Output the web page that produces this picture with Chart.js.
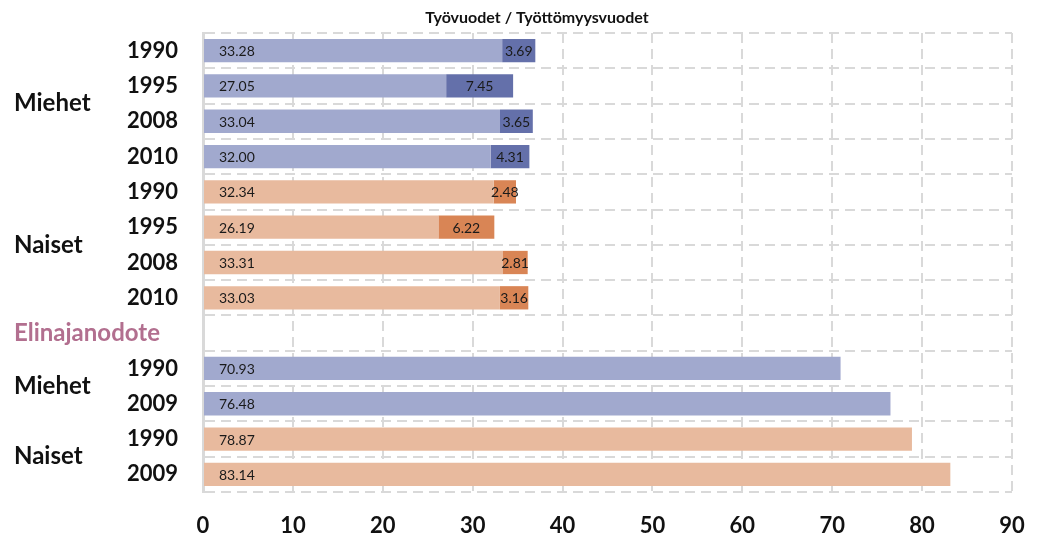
<!DOCTYPE html>
<html>
<head>
<meta charset="utf-8">
<style>
  html, body { margin: 0; padding: 0; background: #ffffff; }
</style>
<script src="https://cdn.jsdelivr.net/npm/chart.js@4/dist/chart.umd.min.js"></script>
</head>
<body>
<canvas id="elinChart" width="1039" height="538"></canvas>
<script>
// rivit ylhäältä alas
const vuodet = ['1990', '1995', '2008', '2010', '1990', '1995', '2008', '2010', '', '1990', '2009', '1990', '2009'];
const tyovuodet = [33.28, 27.05, 33.04, 32.00, 32.34, 26.19, 33.31, 33.03, null, null, null, null, null];
const tyottomyysvuodet = [3.69, 7.45, 3.65, 4.31, 2.48, 6.22, 2.81, 3.16, null, null, null, null, null];
const elinajanodote = [null, null, null, null, null, null, null, null, null, 70.93, 76.48, 78.87, 83.14];
const ryhmat = ['Miehet', 'Naiset', 'Elinajanodote', 'Miehet', 'Naiset'];
const ryhmanRivit = [[0, 3], [4, 7], [8, 8], [9, 10], [11, 12]];
const xTicks = [0, 10, 20, 30, 40, 50, 60, 70, 80, 90];
const otsikko = 'Työvuodet / Työttömyysvuodet';

const FONT = 'Lato, "Open Sans", sans-serif';
const isNainen = function (i) { return (i >= 4 && i <= 7) || i >= 11; };
const vaalea = vuodet.map(function (v, i) { return isNainen(i) ? '#e8ba9e' : '#a1a9ce'; });
const tumma = vuodet.map(function (v, i) { return isNainen(i) ? '#d98555' : '#6470aa'; });

const labelPlugin = {
    id: 'palkkiLabels',
    afterDatasetsDraw: function (chart) {
        const ctx = chart.ctx;
        ctx.save();
        ctx.font = '14px ' + FONT;
        ctx.fillStyle = '#1a1a1a';
        ctx.textBaseline = 'middle';
        chart.data.datasets.forEach(function (ds, di) {
            const meta = chart.getDatasetMeta(di);
            meta.data.forEach(function (bar, i) {
                const v = ds.data[i];
                if (v === null || v === undefined) return;
                const left = Math.min(bar.x, bar.base);
                if (di === 1) {
                    // työttömyysvuodet keskelle omaa osuuttaan
                    ctx.textAlign = 'center';
                    ctx.fillText(v.toFixed(2), (bar.x + bar.base) / 2, bar.y + 1);
                } else {
                    ctx.textAlign = 'left';
                    ctx.fillText(v.toFixed(2), left + 15, bar.y + 1);
                }
            });
        });
        ctx.restore();
    }
};

const ryhmaPlugin = {
    id: 'ryhmaLabels',
    afterDraw: function (chart) {
        const ctx = chart.ctx;
        const y = chart.scales.y;
        ctx.save();
        ctx.textBaseline = 'middle';
        ctx.textAlign = 'left';
        ctx.font = 'bold 24px ' + FONT;
        ryhmat.forEach(function (nimi, i) {
            const r = ryhmanRivit[i];
            const py = y.getPixelForValue((r[0] + r[1]) / 2);
            ctx.fillStyle = nimi === 'Elinajanodote' ? '#b26f8f' : '#111111';
            ctx.fillText(nimi, 14, py);
        });
        // otsikko
        ctx.font = 'bold 16px ' + FONT;
        ctx.fillStyle = '#111111';
        ctx.textAlign = 'center';
        ctx.fillText(otsikko, 537, 18);
        ctx.restore();
    }
};

const ctxEl = document.getElementById('elinChart');
new Chart(ctxEl, {
    type: 'bar',
    data: {
        labels: vuodet,
        datasets: [
            { label: 'Työvuodet', data: tyovuodet, backgroundColor: vaalea },
            { label: 'Työttömyysvuodet', data: tyottomyysvuodet, backgroundColor: tumma },
            { label: 'Elinajanodote', data: elinajanodote, backgroundColor: vaalea }
        ]
    },
    options: {
        indexAxis: 'y',
        responsive: false,
        animation: false,
        datasets: {
            bar: { categoryPercentage: 1, barPercentage: 0.66, borderWidth: 0 }
        },
        layout: { padding: { top: 33, right: 27, left: 0, bottom: 0 } },
        plugins: {
            legend: { display: false },
            tooltip: { enabled: false }
        },
        scales: {
            x: {
                stacked: true,
                min: 0,
                max: 90,
                afterBuildTicks: function (scale) {
                    scale.ticks = xTicks.map(function (v) { return { value: v }; });
                },
                afterFit: function (scale) {
                    scale.height = 46;
                    scale.paddingLeft = 0;
                    scale.paddingRight = 0;
                },
                grid: {
                    color: '#d9d9d9',
                    lineWidth: 2,
                    drawTicks: false
                },
                border: { display: false, dash: [10, 6] },
                ticks: {
                    padding: 21,
                    color: '#111111',
                    font: { family: FONT, size: 22, weight: 'bold' }
                }
            },
            y: {
                stacked: true,
                afterFit: function (scale) {
                    scale.width = 203;
                    scale.paddingTop = 0;
                    scale.paddingBottom = 0;
                },
                grid: {
                    offset: true,
                    color: '#d9d9d9',
                    lineWidth: 2,
                    drawTicks: false
                },
                border: { display: true, color: '#d9d9d9', width: 3, dash: [10, 6] },
                ticks: {
                    padding: 25,
                    color: '#111111',
                    font: { family: FONT, size: 22, weight: 'bold' }
                }
            }
        }
    },
    plugins: [labelPlugin, ryhmaPlugin]
});
</script>
</body>
</html>
